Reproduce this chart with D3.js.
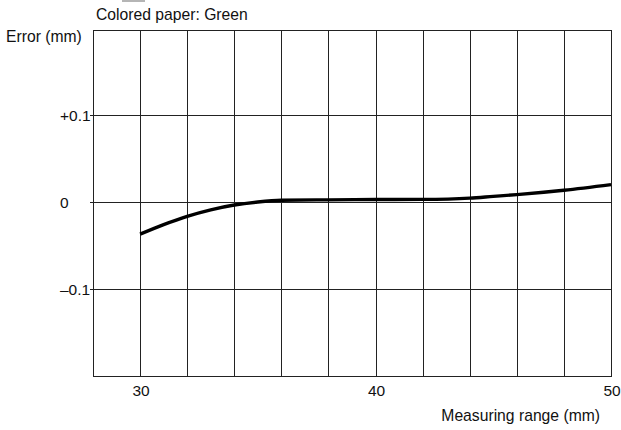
<!DOCTYPE html>
<html>
<head>
<meta charset="utf-8">
<script src="https://cdn.jsdelivr.net/npm/d3@7"></script>
<style>
  html, body { margin: 0; padding: 0; background: #fff; }
  svg { display: block; }
  text { font-family: "Liberation Sans", Arial, sans-serif; fill: #111; }
</style>
</head>
<body>
<svg id="chart" width="621" height="430"></svg>
<script>
// Measuring range (mm) and measured error (mm)
const rangeMm = [30, 31, 32, 33, 34, 35, 36, 38, 40, 42, 44, 45, 46, 48, 50];
const errorMm = [-0.037, -0.026, -0.0165, -0.009, -0.0035, 0.0, 0.002, 0.0025, 0.0028, 0.003, 0.0045, 0.0065, 0.0085, 0.0135, 0.02];

// Axis ticks and labels
const xGrid = [28, 30, 32, 34, 36, 38, 40, 42, 44, 46, 48, 50];
const xTickValues = [30, 40, 50];
const yGrid = [0.1, 0, -0.1];
const yTickLabels = ["+0.1", "0", "\u20130.1"];

const title = "Colored paper: Green";
const yTitle = "Error (mm)";
const xTitle = "Measuring range (mm)";

const svg = d3.select("#chart");
const plotLeft = 93, plotRight = 611, plotTop = 30, plotBottom = 376;

const x = d3.scaleLinear().domain([28, 50]).range([plotLeft, plotRight]);
const y = d3.scaleLinear().domain([-0.2, 0.2]).range([plotBottom, plotTop - 2]);
const px = v => Math.round(v) + 0.5;

// small grey mark above the caption
svg.append("rect").attr("x", 122).attr("y", 0).attr("width", 23).attr("height", 2).attr("fill", "#b5b5b5");

// grid
const grid = svg.append("g").attr("stroke", "#222").attr("stroke-width", 1);
grid.selectAll("line.v").data(xGrid).join("line")
  .attr("class", "v")
  .attr("x1", d => px(x(d))).attr("x2", d => px(x(d)))
  .attr("y1", px(plotTop)).attr("y2", px(plotBottom));
grid.selectAll("line.h").data(yGrid).join("line")
  .attr("class", "h")
  .attr("x1", plotLeft - 3).attr("x2", px(plotRight))
  .attr("y1", d => px(y(d))).attr("y2", d => px(y(d)));
grid.append("rect")
  .attr("x", px(plotLeft)).attr("y", px(plotTop))
  .attr("width", plotRight - plotLeft).attr("height", plotBottom - plotTop)
  .attr("fill", "none");

// x tick labels
svg.append("g").selectAll("text").data(xTickValues).join("text")
  .attr("x", d => x(d) + 1).attr("y", plotBottom + 20)
  .attr("text-anchor", "middle")
  .attr("font-size", 15.5)
  .text(d => d);

// y tick labels
svg.append("g").selectAll("text").data(yGrid).join("text")
  .attr("x", 60).attr("y", d => y(d))
  .attr("dy", "0.36em")
  .attr("font-size", 15.5)
  .text((d, i) => yTickLabels[i]);

// titles
svg.append("text").attr("x", 96).attr("y", 20).attr("font-size", 15.7).text(title);
svg.append("text").attr("x", 6).attr("y", 42).attr("font-size", 15.7).text(yTitle);
svg.append("text").attr("x", 600).attr("y", 421).attr("text-anchor", "end").attr("font-size", 15.7).text(xTitle);

// error curve
const line = d3.line()
  .x((d, i) => x(rangeMm[i]))
  .y(d => y(d))
  .curve(d3.curveMonotoneX);
svg.append("path")
  .datum(errorMm)
  .attr("d", line)
  .attr("fill", "none")
  .attr("stroke", "#000")
  .attr("stroke-width", 3.4)
  .attr("stroke-linecap", "butt");
</script>
</body>
</html>
